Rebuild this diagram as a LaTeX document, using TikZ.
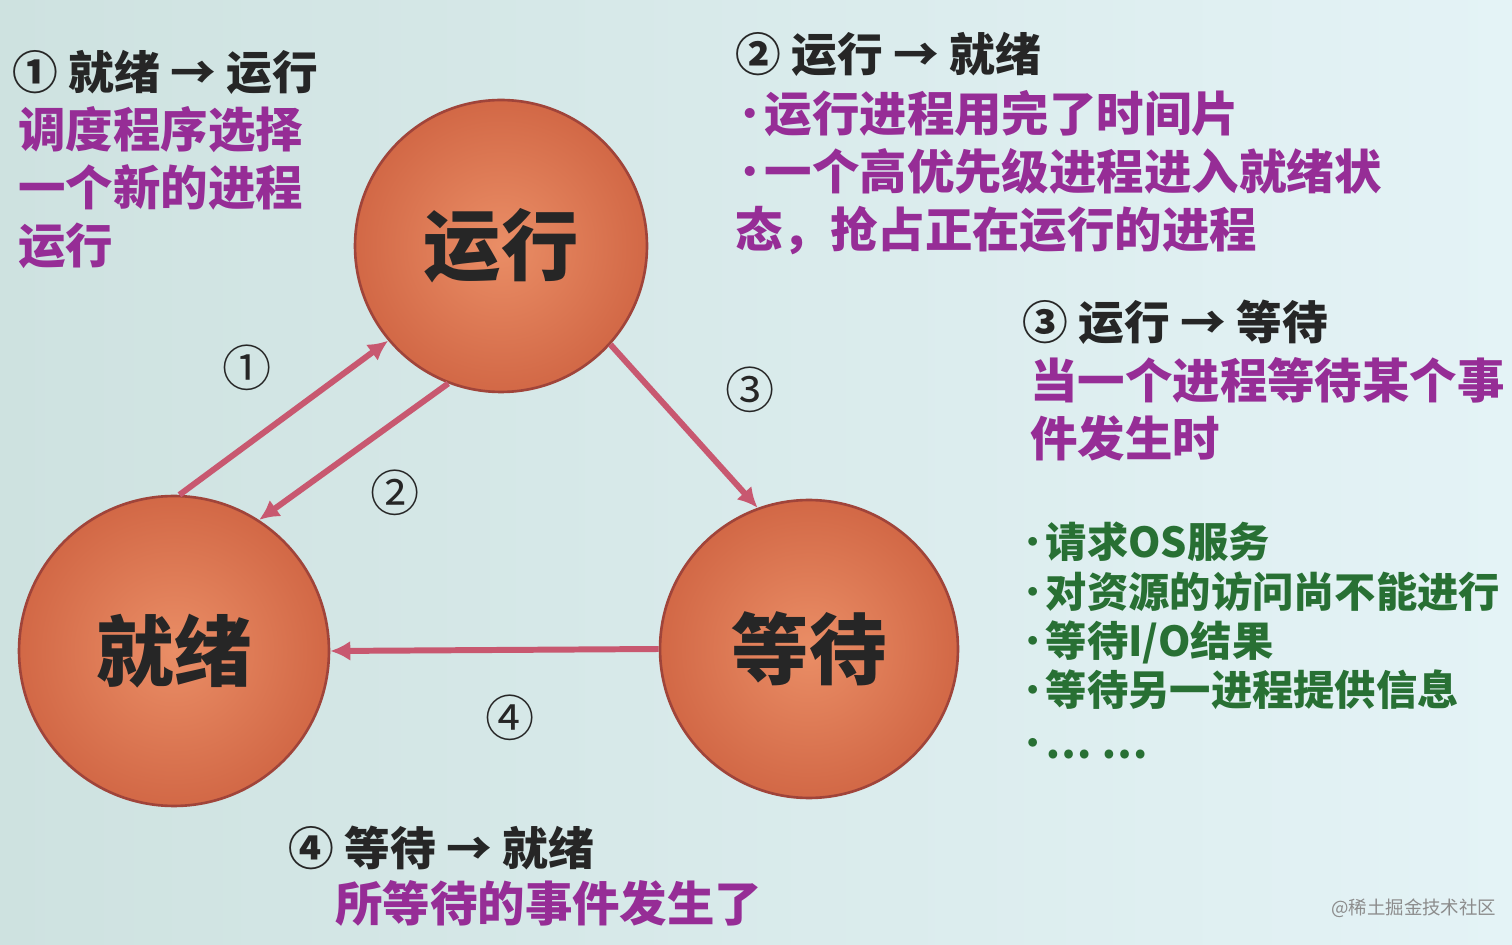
\documentclass[tikz,border=0pt]{standalone}
\usepackage{fontspec}
\setmainfont{Noto Sans CJK SC}
\usetikzlibrary{arrows.meta,positioning}
\definecolor{slidebgL}{RGB}{206,226,224}
\definecolor{slidebgR}{RGB}{228,243,246}
\definecolor{ballin}{RGB}{234,142,102}
\definecolor{ballout}{RGB}{210,104,70}
\definecolor{ballrim}{RGB}{160,68,58}
\definecolor{transred}{RGB}{200,88,112}
\definecolor{headtxt}{RGB}{38,38,38}
\definecolor{notetxt}{RGB}{150,45,150}
\definecolor{listtxt}{RGB}{40,112,52}
\definecolor{marktxt}{RGB}{140,140,140}
\newcommand{\bul}{\makebox[0.62em][c]{\mdseries·}}

\begin{document}
\begin{tikzpicture}[x=0.02cm,y=-0.02cm,
    state/.style={circle,draw=ballrim,line width=1.5pt,inner color=ballin,outer color=ballout,
      text=headtxt,font=\fontsize{44}{50}\selectfont\bfseries},
    flow/.style={-{Latex[length=4mm,width=4mm]},line width=3.4pt,color=transred},
    num/.style={text=headtxt,font=\fontsize{28}{30}\selectfont},
    head/.style={anchor=north west,inner sep=0pt,text=headtxt,
      font=\fontsize{26}{32}\selectfont\bfseries},
    note/.style={anchor=north west,inner sep=0pt,align=left,text=notetxt,
      font=\fontsize{27}{33}\selectfont\bfseries},
    items/.style={anchor=north west,inner sep=0pt,align=left,text=listtxt,
      font=\fontsize{23.5}{28}\selectfont\bfseries}
  ]
  \shade[left color=slidebgL,right color=slidebgR] (0,0) rectangle (1512,945);
  \useasboundingbox (0,0) rectangle (1512,945);

  % the three states
  \node[state,minimum size=5.84cm] (run) at (501,246) {运行};
  \node[state,minimum size=6.2cm] (ready) at (174,651) {就绪};
  \node[state,minimum size=5.96cm] (wait) at (809,649) {等待};

  % transitions
  \draw[flow] (ready.88) -- (run.220);
  \draw[flow] (run.249) -- (ready.57);
  \draw[flow] (run.318) -- (wait.110);
  \draw[flow] (wait.west) -- (ready.east);

  \node[num] (c1) at (247,368) {①};
  \node[num] (c2) at (395,493) {②};
  \node[num] (c3) at (750,390) {③};
  \node[num] (c4) at (510,718) {④};

  % explanations
  \node[head] (h1) at (12,50) {① 就绪 → 运行};
  \node[note] (n1) at (18,106) {调度程序选择\\一个新的进程\\运行};

  \node[head] (h2) at (735,32) {② 运行 → 就绪};
  \node[note] (n2) at (735,90) {\bul 运行进程用完了时间片\\\bul 一个高优先级进程进入就绪状\\态，抢占正在运行的进程};

  \node[head] (h3) at (1022,300) {③ 运行 → 等待};
  \node[note] (n3) at (1030,357) {当一个进程等待某个事\\件发生时};
  \node[items] (lst) at (1020,522) {\bul 请求OS服务\\\bul 对资源的访问尚不能进行\\\bul 等待I/O结果\\\bul 等待另一进程提供信息\\[2pt]\bul …\ …};

  \node[head] (h4) at (288,826) {④ 等待 → 就绪};
  \node[note] (n4) at (335,880) {所等待的事件发生了};

  \node[anchor=west,text=marktxt,font=\fontsize{10.5}{12}\selectfont] (mark) at (1325,908) {@稀土掘金技术社区};
\end{tikzpicture}
\end{document}
